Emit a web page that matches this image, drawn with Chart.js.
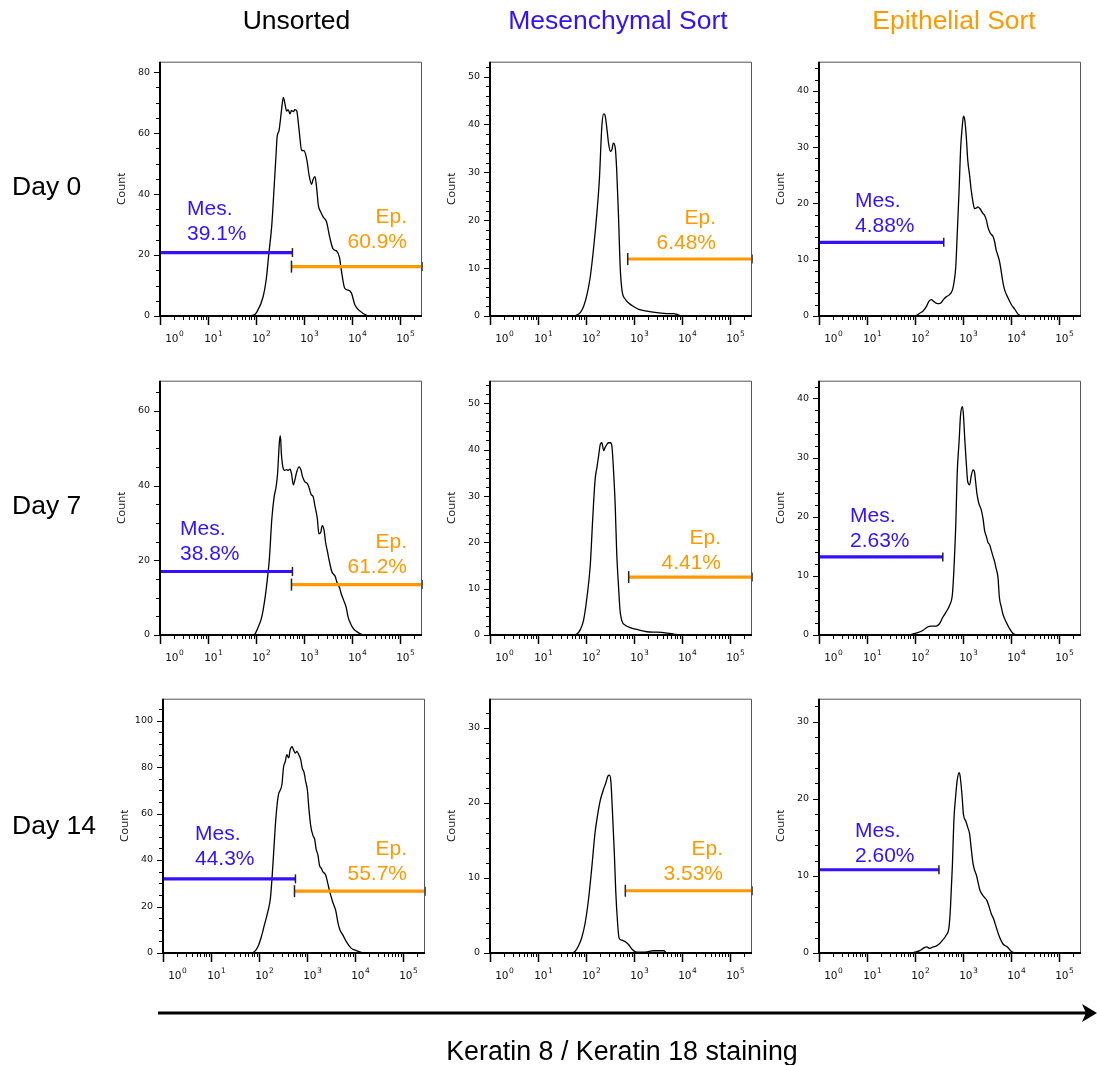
<!DOCTYPE html>
<html>
<head>
<meta charset="utf-8">
<script src="https://cdn.jsdelivr.net/npm/chart.js@4.4.0/dist/chart.umd.min.js"></script>
<style>
  html, body { margin: 0; padding: 0; background: #fff; }
  #page { position: relative; width: 1097px; height: 1065px; overflow: hidden; }
  #page canvas { position: absolute; }
  #overlay { position: absolute; left: 0; top: 0; z-index: 2; pointer-events: none; }
</style>
</head>
<body>
<div id="page">
  <svg id="overlay" width="1097" height="1065" xmlns="http://www.w3.org/2000/svg"></svg>
</div>
<script>
// columns / rows
const sorts = ['Unsorted', 'Mesenchymal Sort', 'Epithelial Sort'];
const days = ['Day 0', 'Day 7', 'Day 14'];
const decades = [0, 1, 2, 3, 4, 5];   // x tick labels 10^n
const xMax = 5.46;                    // top of the log axis (~262144)

// histograms: [log10 intensity, count]
const day0Unsorted = [[0,0],[1.75,0],[1.95,0.3],[2.01,1.1],[2.15,6.4],[2.22,12.8],[2.26,19.2],[2.33,29.9],[2.38,42.7],[2.42,53.3],[2.44,58.7],[2.48,60.8],[2.53,67.2],[2.57,71.7],[2.60,69.9],[2.64,67.2],[2.67,67.7],[2.71,66.3],[2.74,67.4],[2.78,67.0],[2.81,67.7],[2.85,67.2],[2.90,60.8],[2.95,54.4],[3.00,54.2],[3.06,51.2],[3.11,45.9],[3.16,43.2],[3.19,44.8],[3.23,45.7],[3.26,42.7],[3.30,36.3],[3.35,34.1],[3.40,32.5],[3.47,30.9],[3.54,25.6],[3.61,21.9],[3.68,21.3],[3.74,19.2],[3.78,14.9],[3.85,9.1],[3.92,8.5],[3.99,7.5],[4.06,3.7],[4.17,1.6],[4.31,0.2],[4.38,0],[5.46,0]];
const day0Mes = [[0,0],[1.77,0],[1.81,0.2],[1.88,0.7],[1.95,2.0],[2.02,4.4],[2.09,8.2],[2.16,14.3],[2.23,21.8],[2.28,28.6],[2.33,39.5],[2.37,42.2],[2.40,41.8],[2.44,38.8],[2.47,36.1],[2.51,34.4],[2.54,34.7],[2.57,36.1],[2.61,35.1],[2.64,30.6],[2.68,20.4],[2.71,10.9],[2.75,5.4],[2.82,3.5],[2.89,2.7],[2.99,2.0],[3.10,1.4],[3.27,1.0],[3.48,0.7],[3.69,0.5],[3.83,0.5],[3.93,0.2],[4.00,0],[5.46,0]];
const day0Epi = [[0,0],[1.96,0],[2.03,0.1],[2.10,0.5],[2.17,0.9],[2.24,1.7],[2.29,2.6],[2.34,2.9],[2.39,2.6],[2.44,2.3],[2.50,2.2],[2.55,2.4],[2.60,3.0],[2.65,3.4],[2.72,3.8],[2.78,4.6],[2.81,5.8],[2.85,8.7],[2.88,14.5],[2.92,22.5],[2.95,29.5],[2.99,34.1],[3.01,35.5],[3.04,34.7],[3.07,31.8],[3.10,27.7],[3.14,24.9],[3.17,22.5],[3.21,20.2],[3.24,19.1],[3.28,19.2],[3.31,19.4],[3.35,19.1],[3.42,18.2],[3.45,17.9],[3.49,17.0],[3.52,15.8],[3.56,14.9],[3.59,14.5],[3.63,14.1],[3.66,13.2],[3.69,11.8],[3.73,10.7],[3.76,9.8],[3.80,7.8],[3.83,6.1],[3.87,4.6],[3.94,3.2],[4.01,2.0],[4.08,1.2],[4.15,0.3],[4.25,0],[5.46,0]];
const day7Unsorted = [[0,0],[1.94,0],[1.98,0.3],[2.05,2.2],[2.12,4.8],[2.19,10.0],[2.24,15.3],[2.28,20.5],[2.33,31.0],[2.38,37.1],[2.42,39.7],[2.45,43.2],[2.49,52.0],[2.51,53.3],[2.53,48.5],[2.57,44.5],[2.60,44.1],[2.64,44.3],[2.67,44.1],[2.71,44.4],[2.74,43.2],[2.78,40.2],[2.81,41.5],[2.85,43.7],[2.90,45.0],[2.94,44.1],[2.97,42.4],[3.02,41.0],[3.07,40.6],[3.11,39.3],[3.15,37.6],[3.19,37.1],[3.23,34.5],[3.28,31.0],[3.31,27.1],[3.35,27.5],[3.38,29.3],[3.42,28.0],[3.45,24.9],[3.49,22.3],[3.53,19.7],[3.58,17.0],[3.65,15.7],[3.69,14.0],[3.74,12.7],[3.78,10.9],[3.83,9.2],[3.88,7.4],[3.92,4.8],[3.97,3.1],[4.03,1.7],[4.10,0.9],[4.20,0.2],[4.27,0],[5.46,0]];
const day7Mes = [[0,0],[1.74,0],[1.81,0.2],[1.88,1.1],[1.95,3.2],[2.02,8.1],[2.09,15.1],[2.14,25.0],[2.19,33.5],[2.23,36.3],[2.26,38.4],[2.30,41.2],[2.33,41.5],[2.37,39.8],[2.40,40.5],[2.44,41.2],[2.47,41.5],[2.51,41.5],[2.54,40.8],[2.57,36.3],[2.61,27.8],[2.64,17.9],[2.68,10.2],[2.71,5.3],[2.75,3.0],[2.82,2.1],[2.92,1.6],[3.06,1.2],[3.27,0.7],[3.48,0.6],[3.69,0.4],[3.83,0.2],[3.97,0],[5.46,0]];
const day7Epi = [[0,0],[1.89,0],[1.96,0.2],[2.06,0.4],[2.17,0.8],[2.27,1.4],[2.34,1.5],[2.44,1.5],[2.51,1.9],[2.58,3.0],[2.65,3.9],[2.72,5.0],[2.78,6.9],[2.81,10.8],[2.85,18.5],[2.88,27.3],[2.92,32.8],[2.95,37.2],[2.99,38.6],[3.01,37.2],[3.04,32.8],[3.07,29.0],[3.10,25.9],[3.14,25.4],[3.17,26.8],[3.21,27.9],[3.24,27.6],[3.26,26.2],[3.29,24.0],[3.33,22.3],[3.38,21.2],[3.42,19.6],[3.45,17.7],[3.49,16.6],[3.52,15.7],[3.56,15.2],[3.59,14.3],[3.63,13.2],[3.66,12.4],[3.69,11.3],[3.73,9.7],[3.76,6.3],[3.80,4.7],[3.83,3.6],[3.90,2.2],[3.97,1.1],[4.04,0.3],[4.15,0],[5.46,0]];
const day14Unsorted = [[0,0],[1.84,0],[1.91,0.7],[1.98,2.8],[2.05,7.0],[2.12,12.6],[2.19,18.2],[2.24,23.8],[2.29,37.8],[2.34,54.5],[2.38,64.3],[2.41,68.5],[2.44,69.9],[2.48,72.7],[2.51,79.7],[2.55,82.5],[2.58,85.3],[2.62,83.9],[2.65,87.4],[2.69,88.8],[2.72,87.4],[2.76,86.0],[2.79,86.7],[2.83,85.3],[2.87,83.2],[2.90,79.7],[2.94,77.6],[2.97,74.1],[3.01,69.9],[3.04,62.2],[3.08,54.5],[3.13,50.3],[3.16,49.0],[3.19,44.8],[3.23,42.0],[3.26,37.8],[3.30,36.4],[3.33,35.0],[3.39,33.6],[3.44,29.4],[3.49,25.2],[3.54,21.7],[3.60,18.2],[3.65,12.6],[3.69,9.8],[3.75,7.7],[3.82,4.9],[3.92,2.1],[4.03,1.0],[4.13,0.3],[4.24,0],[5.46,0]];
const day14Mes = [[0,0],[1.70,0],[1.77,0.2],[1.84,0.9],[1.91,2.0],[1.98,3.9],[2.05,7.0],[2.12,11.3],[2.19,16.1],[2.24,18.3],[2.30,20.4],[2.37,21.9],[2.41,22.6],[2.46,23.6],[2.49,23.7],[2.52,22.8],[2.55,19.1],[2.59,13.5],[2.62,8.3],[2.66,3.9],[2.69,2.0],[2.75,1.7],[2.82,1.5],[2.89,1.1],[2.96,0.5],[3.06,0.1],[3.20,0.1],[3.31,0.2],[3.41,0.3],[3.55,0.3],[3.62,0.3],[3.69,0],[5.46,0]];
const day14Epi = [[0,0],[1.92,0],[1.99,0.1],[2.10,0.3],[2.17,0.6],[2.24,0.8],[2.31,0.6],[2.38,0.8],[2.44,0.9],[2.51,1.2],[2.58,1.7],[2.65,2.3],[2.71,3.4],[2.74,5.9],[2.78,11.4],[2.81,17.1],[2.85,20.5],[2.88,22.4],[2.92,23.4],[2.94,23.0],[2.98,20.5],[3.01,18.0],[3.06,17.1],[3.10,16.3],[3.14,15.4],[3.17,13.7],[3.21,11.6],[3.24,10.8],[3.28,10.1],[3.31,9.3],[3.35,8.2],[3.40,7.6],[3.45,7.2],[3.50,6.8],[3.54,6.1],[3.59,5.1],[3.64,4.4],[3.69,3.4],[3.76,2.1],[3.83,1.2],[3.92,0.8],[4.01,0.2],[4.11,0],[5.46,0]];

const curves = [day0Unsorted, day0Mes, day0Epi, day7Unsorted, day7Mes, day7Epi, day14Unsorted, day14Mes, day14Epi];

// y axes (per panel, row by row)
const yMax = [83.4, 53.1, 45.2, 68.1, 54.9, 43.0, 109.4, 33.9, 33.0];
const yStep = [20, 10, 10, 20, 10, 10, 20, 10, 10];
const yMinorStep = [5, 2, 2, 5, 2, 2, 5, 2, 2];

// gates: mesenchymal gate runs from the left edge to mesGateEnd,
// epithelial gate from epGateStart to the right edge
const mesGateEnd = [2.76, null, 2.60, 2.76, null, 2.58, 2.76, null, 2.50];
const mesGateCount = [20.8, null, 13.1, 17.0, null, 13.2, 31.9, null, 10.8];
const epGateStart = [2.74, 2.87, null, 2.74, 2.89, null, 2.74, 2.82, null];
const epGateCount = [16.2, 11.9, null, 13.5, 12.5, null, 26.6, 8.3, null];
const mesPct = ['39.1%', null, '4.88%', '38.8%', null, '2.63%', '44.3%', null, '2.60%'];
const epPct = ['60.9%', '6.48%', null, '61.2%', '4.41%', null, '55.7%', '3.53%', null];

// ---- layout (pixels) ----
const BLUE = '#3311ff';
const ORANGE = '#ff9900';
const PLOT_W = 262, PLOT_H = 260;
const PAD_L = 60, PAD_T = 10, PAD_R = 10, PAD_B = 45;
const panelBoxes = [[160,56],[490,56],[819,56],[160,375],[490,375],[819,375],[163,693],[490,693],[819,693]];
const mesLabelAt = [[187,200],null,[855,192],[180,520],null,[850,507],[195,825],null,[855,822]];
const epLabelAt = [[407,208],[716,209],null,[407,533],[721,529],null,[407,840],[723,840],null];

const page = document.getElementById('page');
const svg = document.getElementById('overlay');
const NS = 'http://www.w3.org/2000/svg';

function addText(str, x, y, size, color, anchor) {
  const t = document.createElementNS(NS, 'text');
  t.setAttribute('x', x);
  t.setAttribute('y', y);
  t.setAttribute('font-size', size);
  t.setAttribute('fill', color);
  t.setAttribute('text-anchor', anchor || 'start');
  t.setAttribute('font-family', '"Liberation Sans", Arial, sans-serif');
  t.textContent = str;
  svg.appendChild(t);
}

// box, minor ticks and 10^n labels
const flowAxes = {
  id: 'flowAxes',
  afterDraw(chart, args, opts) {
    const {ctx, chartArea: a, scales: {x, y}} = chart;
    ctx.save();
    ctx.strokeStyle = '#555';
    ctx.lineWidth = 1;
    ctx.beginPath();
    ctx.moveTo(a.left, a.top + 0.5);
    ctx.lineTo(a.right - 0.5, a.top + 0.5);
    ctx.lineTo(a.right - 0.5, a.bottom);
    ctx.stroke();

    ctx.strokeStyle = '#000';
    ctx.lineWidth = 2;
    ctx.beginPath();
    ctx.moveTo(a.left, a.top);
    ctx.lineTo(a.left, a.bottom + 1);
    ctx.moveTo(a.left - 1, a.bottom);
    ctx.lineTo(a.right, a.bottom);
    ctx.stroke();

    // y ticks
    ctx.lineWidth = 1;
    const n = Math.floor(opts.max / opts.minor + 1e-9);
    const per = Math.round(opts.major / opts.minor);
    for (let i = 0; i <= n; i++) {
      const py = Math.round(y.getPixelForValue(i * opts.minor)) + 0.5;
      const len = i % per === 0 ? 5 : 3;
      ctx.beginPath();
      ctx.moveTo(a.left - 1, py);
      ctx.lineTo(a.left - 1 - len, py);
      ctx.stroke();
    }

    // x ticks
    decades.forEach(d => {
      const px = Math.round(x.getPixelForValue(d)) + 0.5;
      ctx.lineWidth = 1.5;
      ctx.beginPath();
      ctx.moveTo(px, a.bottom);
      ctx.lineTo(px, a.bottom + 9);
      ctx.stroke();
      ctx.lineWidth = 1;
      for (let k = 2; k <= 9; k++) {
        const v = d + Math.log10(k);
        if (v > xMax) break;
        const mx = Math.round(x.getPixelForValue(v)) + 0.5;
        ctx.beginPath();
        ctx.moveTo(mx, a.bottom);
        ctx.lineTo(mx, a.bottom + 4);
        ctx.stroke();
      }
      // label 10^d
      ctx.fillStyle = '#111';
      ctx.textAlign = 'left';
      ctx.textBaseline = 'alphabetic';
      ctx.font = '10.5px "DejaVu Sans"';
      const w1 = ctx.measureText('10').width;
      ctx.font = '7.5px "DejaVu Sans"';
      const w2 = ctx.measureText(String(d)).width;
      const shift = d === 0 ? 14 : 5;
      const sx = px + shift - (w1 + w2 + 0.5) / 2;
      ctx.font = '10.5px "DejaVu Sans"';
      ctx.fillText('10', sx, a.bottom + 26);
      ctx.font = '7.5px "DejaVu Sans"';
      ctx.fillText(String(d), sx + w1 + 0.5, a.bottom + 19.5);
    });
    ctx.restore();
  }
};

function gate(xs, count, color, caps) {
  return {
    data: [{x: xs[0], y: count}, {x: xs[1], y: count}],
    borderColor: color,
    borderWidth: 3.2,
    pointStyle: 'line',
    rotation: 90,
    pointRadius: caps,
    pointBorderColor: '#222',
    pointBorderWidth: 1.5,
    clip: false,
    order: 0
  };
}

curves.forEach((curve, i) => {
  const [L, T] = panelBoxes[i];
  const canvas = document.createElement('canvas');
  const W = PLOT_W + PAD_L + PAD_R, H = PLOT_H + PAD_T + PAD_B;
  canvas.width = W;
  canvas.height = H;
  canvas.style.width = W + 'px';
  canvas.style.height = H + 'px';
  canvas.style.left = (L - PAD_L) + 'px';
  canvas.style.top = (T - PAD_T) + 'px';
  page.insertBefore(canvas, svg);

  const datasets = [];
  if (mesGateEnd[i] !== null) datasets.push(gate([0, mesGateEnd[i]], mesGateCount[i], BLUE, [0, 4.5]));
  if (epGateStart[i] !== null) datasets.push(gate([epGateStart[i], xMax], epGateCount[i], ORANGE, [6, 4.5]));
  datasets.push({
    data: curve.map(([x, y]) => ({x, y})),
    borderColor: '#000',
    borderWidth: 1.3,
    pointRadius: 0,
    cubicInterpolationMode: 'monotone',
    fill: false,
    order: 2
  });

  new Chart(canvas, {
    type: 'line',
    data: { datasets },
    options: {
      responsive: false,
      animation: false,
      events: [],
      layout: { padding: { top: PAD_T, right: PAD_R, left: 0, bottom: 0 } },
      plugins: {
        legend: { display: false },
        tooltip: { enabled: false },
        flowAxes: { max: yMax[i], major: yStep[i], minor: yMinorStep[i] }
      },
      scales: {
        x: {
          type: 'linear', min: 0, max: xMax,
          ticks: { display: false },
          grid: { display: false, drawTicks: false },
          border: { display: false },
          afterFit: s => { s.height = PAD_B; }
        },
        y: {
          type: 'linear', min: 0, max: yMax[i],
          afterBuildTicks: s => {
            const t = [];
            for (let v = 0; v <= yMax[i] + 1e-9; v += yStep[i]) t.push({ value: v });
            s.ticks = t;
          },
          ticks: { padding: 10, color: '#111', font: { family: '"DejaVu Sans"', size: 9.5 } },
          grid: { display: false, drawTicks: false },
          border: { display: false },
          title: { display: true, text: 'Count', color: '#111', padding: { top: 15, bottom: 0 },
                   font: { family: '"Open Sans"', size: 11.5 } },
          afterFit: s => { s.width = PAD_L; }
        }
      }
    },
    plugins: [flowAxes]
  });

  if (mesPct[i]) {
    const [lx, ly] = mesLabelAt[i];
    addText('Mes.', lx, ly + 15, 21, BLUE, 'start');
    addText(mesPct[i], lx, ly + 40, 21, BLUE, 'start');
  }
  if (epPct[i]) {
    const [rx, ry] = epLabelAt[i];
    addText('Ep.', rx, ry + 15, 21, ORANGE, 'end');
    addText(epPct[i], rx, ry + 40, 21, ORANGE, 'end');
  }
});

// headers
const titleX = [296.5, 618, 954];
const titleColor = ['#000', BLUE, ORANGE];
sorts.forEach((s, c) => addText(s, titleX[c], 29, 26.5, titleColor[c], 'middle'));
const dayBaseline = [195, 514, 834];
days.forEach((d, r) => addText(d, 12, dayBaseline[r], 26.5, '#000', 'start'));

// x-axis arrow and label
const line = document.createElementNS(NS, 'line');
line.setAttribute('x1', 158); line.setAttribute('y1', 1013);
line.setAttribute('x2', 1088); line.setAttribute('y2', 1013);
line.setAttribute('stroke', '#000'); line.setAttribute('stroke-width', 3);
svg.appendChild(line);
const head = document.createElementNS(NS, 'polygon');
head.setAttribute('points', '1097,1013 1082,1004 1086,1013 1082,1022');
head.setAttribute('fill', '#000');
svg.appendChild(head);
addText('Keratin 8 / Keratin 18 staining', 622, 1060, 26.8, '#000', 'middle');
</script>
</body>
</html>
